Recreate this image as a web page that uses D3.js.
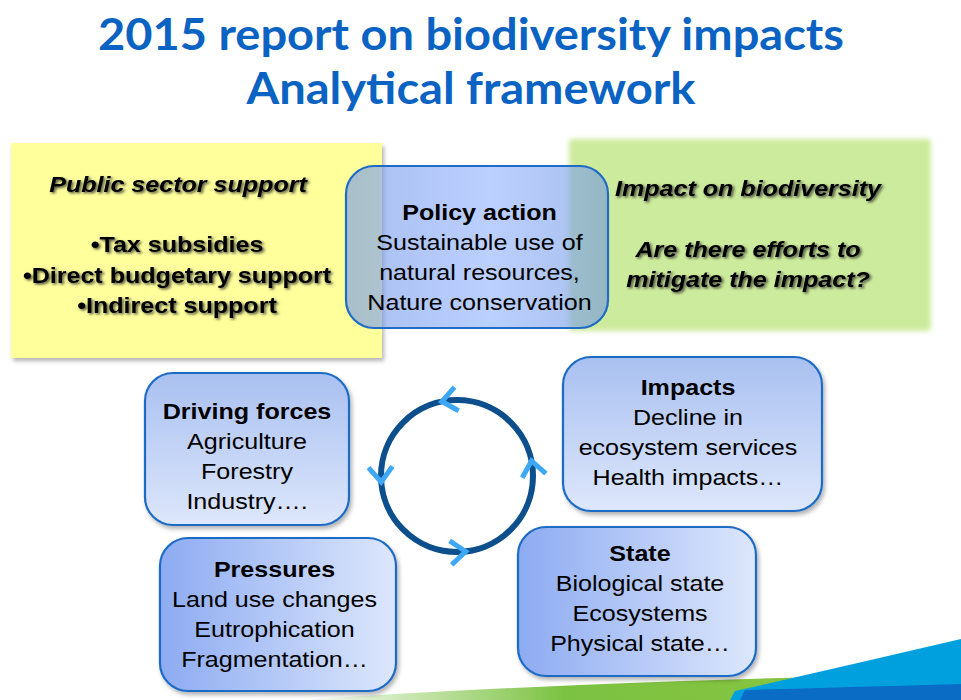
<!DOCTYPE html>
<html><head><meta charset="utf-8">
<script src="https://cdn.jsdelivr.net/npm/d3@7"></script>
<style>html,body{margin:0;padding:0;background:#fff;}svg{display:block;}</style>
</head><body>
<svg id="c" width="961" height="700"></svg>
<script>
// ---- data ----
const titleLines = ["2015 report on biodiversity impacts", "Analytical framework"];
const supportTitle = "Public sector support";
const supportItems = ["\u2022Tax subsidies", "\u2022Direct budgetary support", "\u2022Indirect support"];
const impactTitle = "Impact on biodiversity";
const impactQuestion = ["Are there efforts to", "mitigate the impact?"];
const boxTitles = ["Policy action", "Driving forces", "Impacts", "Pressures", "State"];
const boxLines = [
  ["Sustainable use of", "natural resources,", "Nature conservation"],
  ["Agriculture", "Forestry", "Industry\u2026."],
  ["Decline in", "ecosystem services", "Health impacts\u2026"],
  ["Land use changes", "Eutrophication", "Fragmentation\u2026"],
  ["Biological state", "Ecosystems", "Physical state\u2026"]
];
const cycleArrowAngles = [-100, 177, 85, -10]; // chevrons on the cycle (deg)

// ---- layout ----
const svg = d3.select("#c");
const defs = svg.append("defs");
const SX = 1.14;

function grad(id, x2, y2, stops) {
  const g = defs.append("linearGradient").attr("id", id)
    .attr("x1", 0).attr("y1", 0).attr("x2", x2).attr("y2", y2);
  stops.forEach(s => g.append("stop").attr("offset", s[0]).attr("stop-color", s[1]).attr("stop-opacity", s[2] == null ? 1 : s[2]));
}
grad("gV", 0, 1, [[0, "#a9c0f0"], [1, "#dde7fc"]]);
grad("gH", 1, 0, [[0, "#8dabf2"], [1, "#dde7fc"]]);
grad("gP", 1, 0, [[0, "#6f95e8", 0.6], [0.55, "#9fbcff", 0.7], [1, "#6f95e0", 0.6]]);
grad("gGreen", 1, 0, [[0, "#7cc242", 0], [0.4, "#7cc242", 1], [1, "#8cc63f", 1]]);

const sh = defs.append("filter").attr("id", "sh").attr("x", "-10%").attr("y", "-10%").attr("width", "130%").attr("height", "130%");
sh.append("feDropShadow").attr("dx", 2).attr("dy", 3).attr("stdDeviation", 2).attr("flood-color", "#000").attr("flood-opacity", 0.3);
const soft = defs.append("filter").attr("id", "soft").attr("x", "-10%").attr("y", "-10%").attr("width", "120%").attr("height", "120%");
soft.append("feGaussianBlur").attr("stdDeviation", 2.5);
const tsh = defs.append("filter").attr("id", "tsh").attr("x", "-5%").attr("y", "-20%").attr("width", "115%").attr("height", "160%");
tsh.append("feDropShadow").attr("dx", 1.5).attr("dy", 1.5).attr("stdDeviation", 1.3).attr("flood-color", "#222").attr("flood-opacity", 0.8);

// title
const titleY = [50, 104];
const titleW = [746, 449];
titleLines.forEach((t, i) => {
  svg.append("text").attr("x", 471).attr("y", titleY[i]).attr("text-anchor", "middle")
    .attr("font-family", "Lato, 'Open Sans', sans-serif").attr("font-weight", 700)
    .attr("font-size", 43).attr("fill", "#0a63c2")
    .attr("textLength", titleW[i]).attr("lengthAdjust", "spacingAndGlyphs").text(t);
});

// bottom decoration
svg.append("path").attr("d", "M300,700 Q600,680 961,674 L961,700 Z").attr("fill", "url(#gGreen)");
svg.append("path").attr("d", "M730,700 L735,691 Q850,665 961,639 L961,700 Z").attr("fill", "#00a0df");
svg.append("path").attr("d", "M740,700 L745,690 Q850,687 961,684 L961,700 Z").attr("fill", "#0a6cc4");

// yellow and green panels
svg.append("rect").attr("x", 11).attr("y", 143).attr("width", 371).attr("height", 215)
  .attr("fill", "#ffff9c").attr("filter", "url(#sh)");
svg.append("rect").attr("x", 569).attr("y", 139).attr("width", 362).attr("height", 192)
  .attr("rx", 4).attr("fill", "#cdeb9c").attr("filter", "url(#soft)");

function scaledText(g, cx, y, txt, opts) {
  g.append("text").attr("transform", `translate(${cx},${y}) scale(${SX},1)`)
    .attr("text-anchor", "middle")
    .attr("font-family", "'Liberation Sans', Arial, sans-serif")
    .attr("font-size", opts.size || 22)
    .attr("font-weight", opts.bold ? 700 : 400)
    .attr("font-style", opts.italic ? "italic" : "normal")
    .attr("fill", "#000")
    .attr("filter", opts.shadow ? "url(#tsh)" : null)
    .text(txt);
}

const tg = svg.append("g");
scaledText(tg, 178, 192, supportTitle, {bold: true, italic: true, shadow: true});
supportItems.forEach((t, i) => scaledText(tg, 177, 252 + i * 30.5, t, {bold: true, shadow: true}));
scaledText(tg, 748, 196, impactTitle, {bold: true, italic: true, shadow: true});
impactQuestion.forEach((t, i) => scaledText(tg, 748, 257 + i * 30, t, {bold: true, italic: true, shadow: true}));

// rounded boxes
const boxGeom = [
  {x: 346, y: 166, w: 262, h: 162, fill: "url(#gP)", cx: 479.5, ty: 220, shadow: false},
  {x: 145, y: 373, w: 204, h: 152, fill: "url(#gV)", cx: 247, ty: 419, shadow: true},
  {x: 563, y: 357, w: 259, h: 154, fill: "url(#gV)", cx: 688, ty: 395, shadow: true},
  {x: 160, y: 538, w: 236, h: 153, fill: "url(#gH)", cx: 274.5, ty: 577, shadow: true},
  {x: 518, y: 527, w: 238, h: 149, fill: "url(#gH)", cx: 640, ty: 561, shadow: true}
];
boxTitles.forEach((title, i) => {
  const b = boxGeom[i];
  const g = svg.append("g");
  g.append("rect").attr("x", b.x).attr("y", b.y).attr("width", b.w).attr("height", b.h)
    .attr("rx", 28).attr("ry", 28).attr("fill", b.fill)
    .attr("stroke", "#1f6cc6").attr("stroke-width", 2.2)
    .attr("filter", b.shadow ? "url(#sh)" : null);
  scaledText(g, b.cx, b.ty, title, {bold: true});
  boxLines[i].forEach((t, j) => scaledText(g, b.cx, b.ty + 30 * (j + 1), t, {}));
});

// cycle
const cx = 457, cy = 476, r = 76;
svg.append("circle").attr("cx", cx).attr("cy", cy).attr("r", r)
  .attr("fill", "none").attr("stroke", "#0c4f8c").attr("stroke-width", 6);
cycleArrowAngles.forEach(a => {
  const t = a * Math.PI / 180;
  const dx = Math.sin(t), dy = -Math.cos(t);   // direction of travel
  const px = cx + r * Math.cos(t) + dx * 2, py = cy + r * Math.sin(t) + dy * 2;
  const nx = -dy, ny = dx;
  const back = 15, side = 12;
  const p1 = [px - dx * back + nx * side, py - dy * back + ny * side];
  const p2 = [px - dx * back - nx * side, py - dy * back - ny * side];
  svg.append("path").attr("d", `M${p1}L${px},${py}L${p2}`)
    .attr("fill", "none").attr("stroke", "#3ea8f7").attr("stroke-width", 5)
    .attr("stroke-linejoin", "miter").attr("stroke-linecap", "butt");
});
</script>
</body></html>
